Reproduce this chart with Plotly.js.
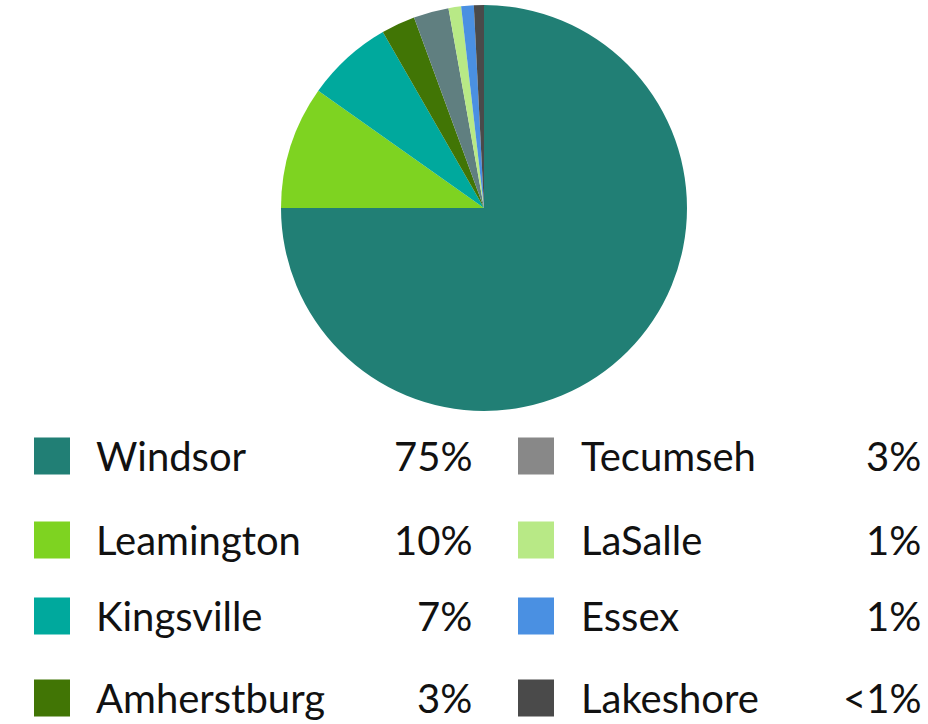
<!DOCTYPE html>
<html>
<head>
<meta charset="utf-8">
<script src="https://cdn.plot.ly/plotly-3.0.1.min.js"></script>
<style>html,body{margin:0;padding:0;background:#fff;}#chart{width:928px;height:724px;}</style>
</head>
<body>
<div id="chart"></div>
<script>
// Data
const towns = ["Windsor", "Leamington", "Kingsville", "Amherstburg", "Tecumseh", "LaSalle", "Essex", "Lakeshore"];
const shares = [75.0, 9.8, 6.9, 2.7, 2.8, 1.0, 1.0, 0.8];
const shareLabels = ["75%", "10%", "7%", "3%", "3%", "1%", "1%", "<1%"];
const sliceColors = ["#217f75", "#7ed321", "#00a99d", "#417505", "#607f80", "#b8e986", "#4a90e2", "#4a4a4a"];
const legendColors = ["#217f75", "#7ed321", "#00a99d", "#417505", "#888888", "#b8e986", "#4a90e2", "#4a4a4a"];

const W = 928, H = 724;
const px = x => x / W;
const py = y => 1 - y / H;

const rowY = [456, 540, 616, 698];
const cols = [
  {sq: 34, name: 94, pct: 474},
  {sq: 518, name: 579, pct: 923}
];

const shapes = [];
const annotations = [];
towns.forEach((t, i) => {
  const c = cols[Math.floor(i / 4)];
  const y = rowY[i % 4];
  shapes.push({type: "rect", xref: "paper", yref: "paper",
    x0: px(c.sq), x1: px(c.sq + 36), y0: py(y + 18.5), y1: py(y - 18.5),
    fillcolor: legendColors[i], line: {width: 0}});
  annotations.push({xref: "paper", yref: "paper", x: px(c.name), y: py(y),
    xanchor: "left", yanchor: "middle", showarrow: false, text: t,
    font: {family: "Lato", size: 40, color: "#111"}});
  annotations.push({xref: "paper", yref: "paper", x: px(c.pct), y: py(y),
    xanchor: "right", yanchor: "middle", showarrow: false, text: shareLabels[i],
    font: {family: "Lato", size: 40, color: "#111"}});
});

const trace = {
  type: "pie",
  labels: towns,
  values: shares,
  sort: false,
  direction: "clockwise",
  rotation: 0,
  textinfo: "none",
  hoverinfo: "label+percent",
  marker: {colors: sliceColors, line: {width: 0}},
  domain: {x: [px(281), px(687)], y: [py(411), py(5)]}
};

Plotly.newPlot("chart", [trace], {
  width: W, height: H,
  margin: {l: 0, r: 0, t: 0, b: 0},
  showlegend: false,
  paper_bgcolor: "#fff",
  shapes: shapes,
  annotations: annotations,
  font: {family: "Lato"}
}, {displayModeBar: false, staticPlot: true});
</script>
</body>
</html>
